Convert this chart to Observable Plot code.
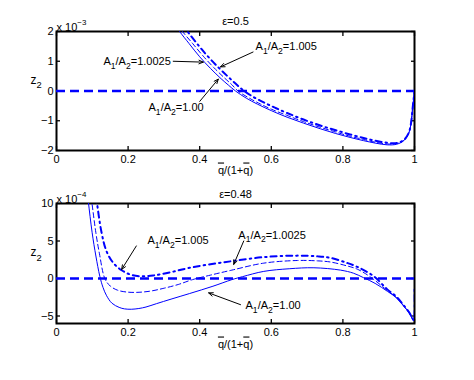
<!DOCTYPE html>
<html>
<head>
<meta charset="utf-8">
<script src="https://cdn.jsdelivr.net/npm/d3@7"></script>
<script src="https://cdn.jsdelivr.net/npm/@observablehq/plot@0.6"></script>
<style>
  html, body { margin: 0; padding: 0; background: #fff; }
  #chart svg { display: block; overflow: visible; }
</style>
</head>
<body>
<div id="chart"></div>
<script>
// ---------- data ----------
const xTicks = [0, 0.2, 0.4, 0.6, 0.8, 1];
const topYTicks = [-2, -1, 0, 1, 2];
const botYTicks = [-5, 0, 5, 10];

const topTitle = "ε=0.5";
const botTitle = "ε=0.48";
const topMult = "x 10^{−3}";
const botMult = "x 10^{−4}";
const xLabel = "~q/(1+~q)";
const yLabel = "z_2";

// top panel (epsilon = 0.5), z2 in units of 1e-3
const top_A100 = [[0.330,2.25],[0.344,2.0],[0.37,1.6],[0.40,1.15],[0.43,0.76],[0.46,0.41],[0.48,0.2],[0.50,0.0],[0.53,-0.24],[0.561,-0.44],[0.60,-0.66],[0.644,-0.88],[0.69,-1.08],[0.737,-1.27],[0.78,-1.43],[0.82,-1.56],[0.858,-1.67],[0.89,-1.75],[0.924,-1.81],[0.95,-1.79],[0.97,-1.67],[0.984,-1.42],[0.99,-1.12],[0.995,-0.55],[1.0,-0.02]];
const top_A10025 = [[0.338,2.25],[0.352,2.0],[0.38,1.6],[0.41,1.17],[0.44,0.78],[0.47,0.43],[0.49,0.21],[0.507,0.0],[0.54,-0.25],[0.57,-0.44],[0.60,-0.61],[0.644,-0.82],[0.69,-1.03],[0.737,-1.22],[0.78,-1.38],[0.82,-1.52],[0.858,-1.63],[0.89,-1.72],[0.924,-1.78],[0.95,-1.77],[0.97,-1.66],[0.984,-1.41],[0.99,-1.11],[0.995,-0.55],[1.0,-0.02]];
const top_A1005 = [[0.352,2.25],[0.366,2.0],[0.39,1.63],[0.42,1.2],[0.45,0.82],[0.48,0.47],[0.50,0.25],[0.52,0.04],[0.55,-0.2],[0.58,-0.39],[0.61,-0.56],[0.644,-0.74],[0.69,-0.96],[0.737,-1.16],[0.78,-1.32],[0.82,-1.46],[0.858,-1.58],[0.89,-1.67],[0.924,-1.74],[0.95,-1.75],[0.97,-1.65],[0.984,-1.40],[0.99,-1.1],[0.995,-0.55],[1.0,-0.02]];

// bottom panel (epsilon = 0.48), z2 in units of 1e-4
const bot_A100 = [[0.082,13],[0.0885,10.4],[0.0996,6.1],[0.11,3.0],[0.121,0.3],[0.13,-1.2],[0.14,-2.3],[0.155,-3.3],[0.175,-3.85],[0.19,-4.05],[0.209,-4.1],[0.23,-4.0],[0.25,-3.8],[0.279,-3.36],[0.32,-2.75],[0.372,-2.0],[0.437,-1.03],[0.49,-0.15],[0.52,0.25],[0.579,0.95],[0.65,1.3],[0.719,1.43],[0.793,1.12],[0.83,0.7],[0.858,0.1],[0.89,-0.65],[0.924,-1.7],[0.95,-2.6],[0.97,-3.7],[0.985,-4.6],[0.993,-5.3],[0.998,-5.6],[1.0,-1.0]];
const bot_A10025 = [[0.09,13],[0.098,10.4],[0.11,6.1],[0.12,3.3],[0.135,0.0],[0.15,-1.0],[0.17,-1.55],[0.195,-1.8],[0.223,-1.85],[0.26,-1.7],[0.30,-1.3],[0.34,-0.8],[0.38,-0.15],[0.43,0.45],[0.49,1.12],[0.579,2.05],[0.672,2.4],[0.73,2.35],[0.765,2.2],[0.81,1.7],[0.84,1.25],[0.877,0.2],[0.924,-1.6],[0.95,-2.55],[0.97,-3.65],[0.985,-4.55],[0.993,-5.25],[0.998,-5.6],[1.0,-1.0]];
const bot_A1005 = [[0.104,13],[0.112,10.4],[0.126,6.1],[0.14,3.6],[0.16,2.0],[0.182,1.1],[0.205,0.55],[0.233,0.3],[0.27,0.4],[0.32,0.85],[0.372,1.43],[0.43,1.9],[0.493,2.33],[0.579,2.85],[0.672,3.05],[0.73,2.95],[0.765,2.75],[0.81,2.1],[0.84,1.55],[0.886,0.3],[0.924,-1.45],[0.95,-2.45],[0.97,-3.6],[0.985,-4.5],[0.993,-5.2],[0.998,-5.55],[1.0,-1.0]];

// annotations
const topLabels = ["A_1/A_2=1.0025", "A_1/A_2=1.005", "A_1/A_2=1.00"];
const topLabelX = [0.131, 0.556, 0.257];
const topLabelY = [1.0, 1.5, -0.56];
const topArrowX1 = [0.326, 0.549, 0.40];
const topArrowY1 = [1.0, 1.31, -0.35];
const topArrowX2 = [0.41, 0.458, 0.452];
const topArrowY2 = [0.97, 0.81, 0.40];

const botLabels = ["A_1/A_2=1.005", "A_1/A_2=1.0025", "A_1/A_2=1.00"];
const botLabelX = [0.254, 0.508, 0.528];
const botLabelY = [5.1, 5.8, -3.63];
const botArrowX1 = [0.223, 0.523, 0.514];
const botArrowY1 = [4.34, 5.0, -3.49];
const botArrowX2 = [0.182, 0.495, 0.425];
const botArrowY2 = [1.21, 1.88, -1.92];

// ---------- drawing ----------
const FONT = "'Liberation Sans', Arial, Helvetica, sans-serif";
const BLUE = "#0000ff";
const fmt = d => d < 0 ? "−" + (-d) : String(d);

function annotations(labels, lx, ly, ax1, ay1, ax2, ay2) {
  const lab = labels.map((t, i) => ({t, x: lx[i], y: ly[i]}));
  const arr = ax1.map((_, i) => ({x1: ax1[i], y1: ay1[i], x2: ax2[i], y2: ay2[i]}));
  return [
    Plot.arrow(arr, {x1: "x1", y1: "y1", x2: "x2", y2: "y2", stroke: "black", strokeWidth: 1, headLength: 7, headAngle: 45}),
    Plot.text(lab, {x: "x", y: "y", text: "t", textAnchor: "start", fontSize: 11, fill: "black"})
  ];
}

function panel(o) {
  return Plot.plot({
    width: 474, height: o.height,
    marginLeft: 56, marginRight: 60, marginTop: o.marginTop, marginBottom: o.marginBottom,
    x: {domain: [0, 1]},
    y: {domain: o.yDomain},
    style: {fontFamily: FONT, fontSize: "11px", color: "black", background: "white", overflow: "visible"},
    marks: [
      Plot.frame({stroke: "black", strokeWidth: 2}),
      Plot.axisX(xTicks, {anchor: "bottom", tickSize: 0, tickPadding: 5, tickFormat: fmt, label: null, fontSize: 11}),
      Plot.axisX(xTicks, {anchor: "bottom", tickSize: -4, tickFormat: () => "", label: null, strokeWidth: 1.3}),
      Plot.axisX(xTicks, {anchor: "top", tickSize: -4, tickFormat: () => "", label: null, strokeWidth: 1.3}),
      Plot.axisY(o.yTicks, {anchor: "left", tickSize: 0, tickPadding: 3, tickFormat: fmt, label: null, fontSize: 11}),
      Plot.axisY(o.yTicks, {anchor: "left", tickSize: -4, tickFormat: () => "", label: null, strokeWidth: 1.3}),
      Plot.axisY(o.yTicks, {anchor: "right", tickSize: -4, tickFormat: () => "", label: null, strokeWidth: 1.3}),
      Plot.line(o.s1, {x: d => d[0], y: d => d[1], stroke: BLUE, strokeWidth: 1, curve: "catmull-rom", clip: true}),
      Plot.line(o.s2, {x: d => d[0], y: d => d[1], stroke: BLUE, strokeWidth: 1, strokeDasharray: "5,3", curve: "catmull-rom", clip: true}),
      Plot.line(o.s3, {x: d => d[0], y: d => d[1], stroke: BLUE, strokeWidth: 2, strokeDasharray: "6,4,1.5,4", curve: "catmull-rom", clip: true}),
      Plot.ruleY([0], {stroke: BLUE, strokeWidth: 2.5, strokeDasharray: "9,5"}),
      ...o.ann,
      Plot.text([o.title], {frameAnchor: "top", dy: o.titleDy, text: d => d, fontSize: 11}),
      Plot.text([o.mult], {frameAnchor: "top-left", textAnchor: "start", dy: -8, text: d => d, fontSize: 11}),
      Plot.text([yLabel], {frameAnchor: "left", textAnchor: "start", dx: -26, dy: -11, text: d => d, fontSize: 12}),
      Plot.text([xLabel], {frameAnchor: "bottom", dy: o.xlabDy, text: d => d, fontSize: 11})
    ]
  });
}

const topPlot = panel({
  height: 180, marginTop: 31, marginBottom: 30, yDomain: [-2, 2], yTicks: topYTicks,
  s1: top_A100, s2: top_A10025, s3: top_A1005,
  ann: annotations(topLabels, topLabelX, topLabelY, topArrowX1, topArrowY1, topArrowX2, topArrowY2),
  title: topTitle, titleDy: -14, mult: topMult, xlabDy: 23
});
const botPlot = panel({
  height: 200, marginTop: 23, marginBottom: 57, yDomain: [-6, 10], yTicks: botYTicks,
  s1: bot_A100, s2: bot_A10025, s3: bot_A1005,
  ann: annotations(botLabels, botLabelX, botLabelY, botArrowX1, botArrowY1, botArrowX2, botArrowY2),
  title: botTitle, titleDy: -13, mult: botMult, xlabDy: 24
});

const chart = document.getElementById("chart");
chart.appendChild(topPlot);
chart.appendChild(botPlot);

// rich text: _x subscript, ^{..} superscript, ~x overline
function richText(t) {
  const s = t.textContent;
  if (!/[_^~]/.test(s) || t.querySelector("tspan")) return;
  const fs = parseFloat(t.getAttribute("font-size") || getComputedStyle(t).fontSize) || 11;
  const segs = [];
  let i = 0, buf = "";
  const push = (text, type) => { if (text) segs.push({text, type}); };
  while (i < s.length) {
    const c = s[i];
    if (c === "_") { push(buf, "n"); buf = ""; push(s[i + 1], "sub"); i += 2; }
    else if (c === "^" && s[i + 1] === "{") { push(buf, "n"); buf = ""; const j = s.indexOf("}", i); push(s.slice(i + 2, j), "sup"); i = j + 1; }
    else if (c === "~") { push(buf, "n"); buf = ""; push(s[i + 1], "over"); i += 2; }
    else { buf += c; i++; }
  }
  push(buf, "n");
  t.textContent = "";
  let shift = 0;
  for (const sg of segs) {
    const ts = document.createElementNS("http://www.w3.org/2000/svg", "tspan");
    let target = 0;
    if (sg.type === "sub") { target = fs * 0.35; ts.setAttribute("font-size", fs * 0.78); }
    if (sg.type === "sup") { target = -fs * 0.55; ts.setAttribute("font-size", fs * 0.72); }
    if (sg.type === "over") ts.setAttribute("text-decoration", "overline");
    if (target !== shift) { ts.setAttribute("dy", target - shift); shift = target; }
    ts.textContent = sg.text;
    t.appendChild(ts);
  }
}
chart.querySelectorAll("text").forEach(richText);
</script>
</body>
</html>
